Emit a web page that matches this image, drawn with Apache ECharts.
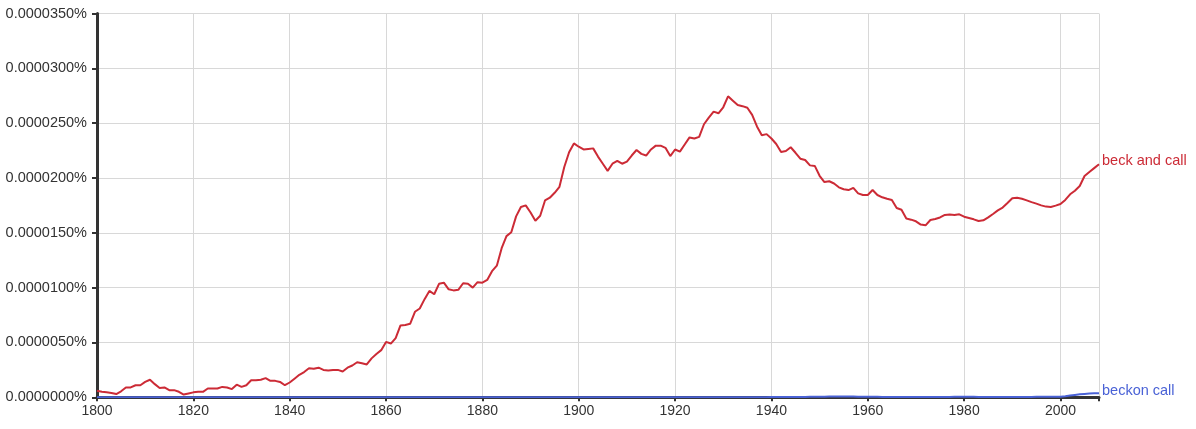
<!DOCTYPE html>
<html>
<head>
<meta charset="utf-8">
<script src="https://cdn.jsdelivr.net/npm/echarts@6/dist/echarts.min.js"></script>
<style>
html,body{margin:0;padding:0;background:#fff;}
#chart{width:1196px;height:429px;}
</style>
</head>
<body>
<div id="chart"></div>
<script>
// Values in units of 0.00001 % (e.g. 2.31 -> 0.0000231%)
const startYear = 1800;
const endYear = 2008;
const seriesNames = ['beck and call', 'beckon call'];
const beckAndCall = [
  0.06,0.05,0.045,0.04,0.03,0.055,0.09,0.09,0.11,0.11,
  0.14,0.16,0.12,0.085,0.09,0.065,0.065,0.05,0.025,0.035,
  0.045,0.05,0.05,0.08,0.08,0.08,0.095,0.09,0.075,0.115,
  0.095,0.11,0.155,0.155,0.16,0.175,0.15,0.15,0.14,0.11,
  0.135,0.17,0.205,0.23,0.265,0.26,0.27,0.25,0.245,0.25,
  0.25,0.235,0.27,0.29,0.32,0.31,0.30,0.355,0.395,0.43,
  0.505,0.49,0.54,0.655,0.66,0.67,0.78,0.81,0.895,0.97,
  0.94,1.035,1.045,0.985,0.975,0.98,1.04,1.035,1.00,1.05,
  1.045,1.07,1.15,1.20,1.36,1.47,1.505,1.65,1.735,1.75,
  1.685,1.61,1.655,1.795,1.82,1.865,1.92,2.10,2.235,2.315,
  2.285,2.26,2.265,2.27,2.195,2.13,2.065,2.13,2.155,2.13,
  2.15,2.205,2.255,2.22,2.205,2.26,2.295,2.295,2.275,2.20,
  2.26,2.24,2.305,2.37,2.36,2.375,2.49,2.55,2.605,2.59,
  2.645,2.745,2.705,2.665,2.655,2.64,2.575,2.47,2.39,2.40,
  2.36,2.31,2.237,2.246,2.28,2.23,2.176,2.164,2.115,2.11,
  2.02,1.963,1.97,1.95,1.915,1.897,1.89,1.91,1.86,1.845,
  1.845,1.89,1.845,1.824,1.81,1.80,1.726,1.71,1.63,1.62,
  1.605,1.575,1.568,1.617,1.626,1.64,1.663,1.666,1.663,1.669,
  1.647,1.635,1.623,1.608,1.614,1.641,1.672,1.705,1.73,1.772,
  1.815,1.82,1.81,1.796,1.78,1.766,1.75,1.739,1.736,1.748,
  1.763,1.80,1.851,1.884,1.927,2.018,2.055,2.09,2.125
];
const beckonCall = [
  0.001,0.001,0.001,0.001,0.001,0.001,0.001,0.001,0.001,0.001,
  0.001,0.001,0.001,0.001,0.001,0.001,0.001,0.001,0.001,0.001,
  0.001,0.001,0.001,0.001,0.001,0.001,0.001,0.001,0.001,0.001,
  0.001,0.001,0.001,0.001,0.001,0.001,0.001,0.001,0.001,0.001,
  0.001,0.001,0.001,0.001,0.001,0.001,0.001,0.001,0.001,0.001,
  0.001,0.001,0.001,0.001,0.001,0.001,0.001,0.001,0.001,0.001,
  0.001,0.001,0.001,0.001,0.001,0.001,0.001,0.001,0.001,0.001,
  0.001,0.001,0.001,0.001,0.001,0.001,0.001,0.001,0.001,0.001,
  0.001,0.001,0.001,0.001,0.001,0.001,0.001,0.001,0.001,0.001,
  0.001,0.001,0.001,0.001,0.001,0.001,0.001,0.001,0.001,0.001,
  0.001,0.001,0.001,0.001,0.001,0.001,0.001,0.001,0.001,0.001,
  0.001,0.001,0.001,0.001,0.001,0.001,0.001,0.001,0.001,0.001,
  0.001,0.001,0.001,0.001,0.001,0.001,0.001,0.001,0.001,0.001,
  0.001,0.001,0.001,0.001,0.001,0.001,0.001,0.001,0.001,0.001,
  0.002,0.002,0.002,0.002,0.002,0.003,0.003,0.003,0.004,0.005,
  0.006,0.006,0.007,0.007,0.007,0.007,0.007,0.007,0.006,0.005,
  0.004,0.004,0.004,0.003,0.003,0.003,0.003,0.003,0.003,0.003,
  0.003,0.003,0.003,0.003,0.003,0.003,0.003,0.003,0.004,0.004,
  0.004,0.004,0.004,0.003,0.003,0.003,0.003,0.003,0.003,0.003,
  0.003,0.003,0.003,0.003,0.003,0.004,0.004,0.004,0.005,0.005,
  0.006,0.010,0.016,0.022,0.027,0.031,0.034,0.036,0.037
];
const yTicks = { min: 0, max: 3.5, interval: 0.5 };
const xTicks = { min: 1800, max: 2008, interval: 20 };

function pairs(arr) {
  return arr.map((v, i) => [startYear + i, v]);
}

const font = '"Liberation Sans", Arial, Helvetica, sans-serif';
const chart = echarts.init(document.getElementById('chart'), null, { renderer: 'canvas' });
chart.setOption({
  animation: false,
  backgroundColor: '#ffffff',
  grid: { left: 97, right: 97, top: 13.5, bottom: 31.7, containLabel: false },
  xAxis: {
    type: 'value',
    min: xTicks.min, max: xTicks.max, interval: xTicks.interval,
    axisLine: { show: true, onZero: false, lineStyle: { color: '#333333', width: 3 } },
    axisTick: { show: true, length: 4, lineStyle: { color: '#333333', width: 2 } },
    axisLabel: {
      margin: 7, color: '#333333', fontSize: 14, fontFamily: font,
      formatter: v => (v % 20 === 0 ? String(v) : '')
    },
    splitLine: { show: true, lineStyle: { color: '#d8d8d8', width: 1 } }
  },
  yAxis: {
    type: 'value',
    min: yTicks.min, max: yTicks.max, interval: yTicks.interval,
    axisLine: { show: true, lineStyle: { color: '#333333', width: 3 } },
    axisTick: { show: true, length: 5, lineStyle: { color: '#333333', width: 2 } },
    axisLabel: {
      margin: 10, color: '#333333', fontSize: 14.5, fontFamily: font,
      formatter: v => (v / 100000).toFixed(7) + '%'
    },
    splitLine: { show: true, lineStyle: { color: '#d8d8d8', width: 1 } }
  },
  series: [
    {
      name: seriesNames[0], type: 'line', data: pairs(beckAndCall),
      showSymbol: false, symbol: 'none',
      lineStyle: { color: '#cc2b36', width: 2 },
      itemStyle: { color: '#cc2b36' },
      endLabel: {
        show: true, formatter: '{a}', color: '#cc2b36', fontSize: 14.5,
        fontFamily: font, distance: 3, offset: [0, -3]
      },
      z: 3
    },
    {
      name: seriesNames[1], type: 'line', data: pairs(beckonCall),
      showSymbol: false, symbol: 'none',
      lineStyle: { color: '#4a62d6', width: 2 },
      itemStyle: { color: '#4a62d6' },
      endLabel: {
        show: true, formatter: '{a}', color: '#4a62d6', fontSize: 14.5,
        fontFamily: font, distance: 3, offset: [0, -2]
      },
      z: 4
    }
  ]
});
</script>
</body>
</html>
